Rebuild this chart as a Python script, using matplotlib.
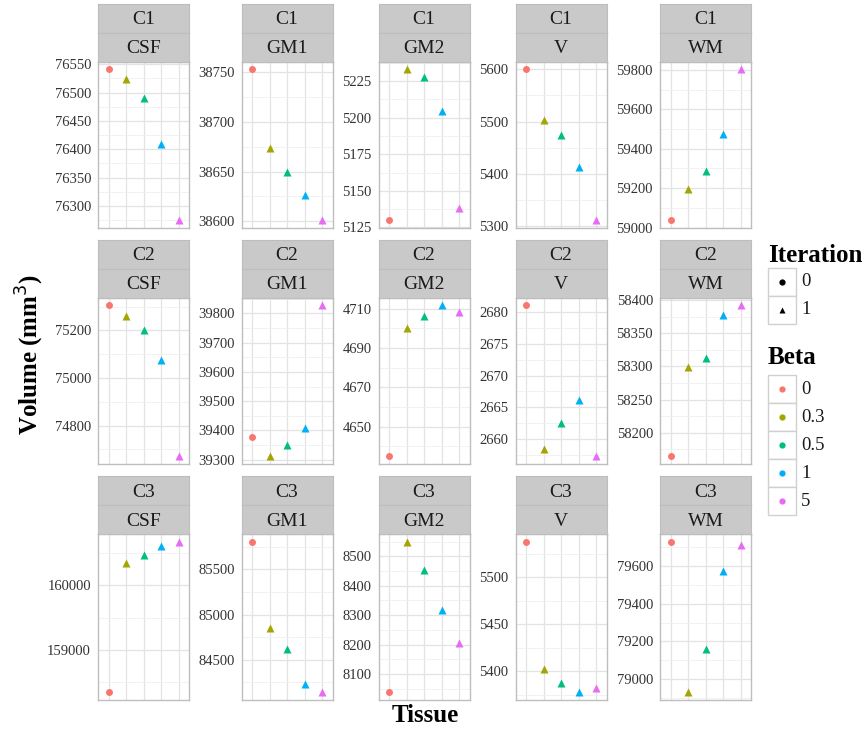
import matplotlib.pyplot as plt
from matplotlib.lines import Line2D
from matplotlib.patches import Rectangle
import numpy as np

plt.rcParams['font.family'] = ['Liberation Serif', 'DejaVu Serif']

clusters = ['C1', 'C2', 'C3']
tissues = ['CSF', 'GM1', 'GM2', 'V', 'WM']
betas = ['0', '0.3', '0.5', '1', '5']
iterations = ['0', '1', '1', '1', '1']
colors = ['#F8766D', '#A3A500', '#00BF7D', '#00B0F6', '#E76BF3']

# volumes per beta (0, 0.3, 0.5, 1, 5)
c1_csf = [76541, 76524, 76491, 76410, 76275]
c1_gm1 = [38753, 38674, 38650, 38626, 38601]
c1_gm2 = [5130, 5233, 5227.5, 5204.7, 5138]
c1_v = [5600, 5504, 5474, 5414, 5312]
c1_wm = [59038, 59196, 59286, 59477, 59803]

c2_csf = [75306, 75261, 75202, 75078, 74672]
c2_gm1 = [39377, 39312, 39350, 39408, 39828]
c2_gm2 = [4635, 4700.4, 4706.5, 4711.8, 4708.2]
c2_v = [2681.1, 2658.4, 2662.6, 2666.2, 2657.3]
c2_wm = [58164.6, 58298.5, 58312.8, 58378.5, 58392.5]

c3_csf = [158346, 160344, 160466, 160598, 160674]
c3_gm1 = [85809, 84853, 84617, 84228, 84136]
c3_gm2 = [8037, 8550, 8452, 8317, 8205]
c3_v = [5538, 5402.4, 5388, 5377.7, 5382.7]
c3_wm = [79729, 78930, 79158, 79572, 79709]

# y tick labels per panel
ticks_c1 = [[76300, 76350, 76400, 76450, 76500, 76550], [38600, 38650, 38700, 38750],
            [5125, 5150, 5175, 5200, 5225], [5300, 5400, 5500, 5600],
            [59000, 59200, 59400, 59600, 59800]]
ticks_c2 = [[74800, 75000, 75200], [39300, 39400, 39500, 39600, 39700, 39800],
            [4650, 4670, 4690, 4710], [2660, 2665, 2670, 2675, 2680],
            [58200, 58250, 58300, 58350, 58400]]
ticks_c3 = [[159000, 160000], [84500, 85000, 85500], [8100, 8200, 8300, 8400, 8500],
            [5400, 5450, 5500], [79000, 79200, 79400, 79600]]

data = [[c1_csf, c1_gm1, c1_gm2, c1_v, c1_wm],
        [c2_csf, c2_gm1, c2_gm2, c2_v, c2_wm],
        [c3_csf, c3_gm1, c3_gm2, c3_v, c3_wm]]
ticks = [ticks_c1, ticks_c2, ticks_c3]

W, H = 864, 733
fig = plt.figure(figsize=(W / 100, H / 100), dpi=100)


def px(x, y, w, h):
    # pixel box (top-left origin) -> figure fraction
    return [x / W, 1 - (y + h) / H, w / W, h / H]


col_left = [98, 241.5, 378.5, 515.5, 660]
row_top = [61.7, 297.7, 534]
pw, ph = 91, 166
strip_h = 28.8
x = np.arange(1, 6)

for r in range(3):
    for c in range(5):
        ax = fig.add_axes(px(col_left[c], row_top[r], pw, ph))
        y = data[r][c]
        for i in range(5):
            mk = 'o' if iterations[i] == '0' else '^'
            ax.plot(x[i], y[i], marker=mk, color=colors[i], ms=5 if mk == 'o' else 6,
                    mec='none', zorder=3)
        lo, hi = min(y), max(y)
        pad = (hi - lo) * 0.05
        t = ticks[r][c]
        step = t[1] - t[0]
        ax.set_yticks(t)
        ax.set_yticklabels([str(v) for v in t])
        minors = np.arange(t[0] - step * 3.5, t[-1] + step * 4, step)
        ax.set_yticks(minors, minor=True)
        ax.set_ylim(lo - pad, hi + pad)
        ax.set_xlim(0.4, 5.6)
        ax.set_xticks(x)
        ax.set_xticklabels([])
        ax.grid(True, which='major', color='#E3E3E3', lw=0.9)
        ax.grid(True, which='minor', axis='y', color='#F0F0F0', lw=0.6)
        ax.set_axisbelow(True)
        ax.tick_params(length=0, pad=5, labelsize=10.5, colors='#333333')
        ax.tick_params(which='minor', length=0)
        for s in ax.spines.values():
            s.set_color('#BEBEBE')
            s.set_linewidth(1.0)
        # two-level strip
        for k, lab in enumerate([clusters[r], tissues[c]]):
            sy = row_top[r] - strip_h * (2 - k)
            sax = fig.add_axes(px(col_left[c], sy, pw, strip_h))
            sax.set_facecolor('#C9C9C9')
            sax.set_xticks([])
            sax.set_yticks([])
            for s in sax.spines.values():
                s.set_color('#BDBDBD')
            sax.text(0.5, 0.45, lab, ha='center', va='center', fontsize=14,
                     color='#1A1A1A', transform=sax.transAxes)

fig.text(30 / W, 1 - 355 / H, 'Volume (mm$^3$)', rotation=90, ha='center', va='center',
         fontsize=18, fontweight='bold')
fig.text(425 / W, 1 - 716 / H, 'Tissue', ha='center', va='center',
         fontsize=18, fontweight='bold')

# legends
lx, ks = 768, 28
fig.text(lx / W, 1 - 255 / H, 'Iteration', ha='left', va='center', fontsize=18,
         fontweight='bold')
fig.text(lx / W, 1 - 357 / H, 'Beta', ha='left', va='center', fontsize=18,
         fontweight='bold')


def key(top, label, marker, color):
    fig.patches.append(Rectangle((lx / W, 1 - (top + ks) / H), ks / W, ks / H,
                                 transform=fig.transFigure, facecolor='white',
                                 edgecolor='#D0D0D0', lw=1))
    cx, cy = (lx + ks / 2) / W, 1 - (top + ks / 2) / H
    fig.lines.append(Line2D([cx], [cy], marker=marker, color=color, ms=4.5,
                            mec='none', transform=fig.transFigure))
    fig.text((lx + ks + 5) / W, cy, label, ha='left', va='center', fontsize=13.5,
             color='#1A1A1A')


key(268, '0', 'o', 'black')
key(268 + ks, '1', '^', 'black')
for i, b in enumerate(betas):
    key(375 + i * ks, b, 'o', colors[i])

fig.savefig('out.png', dpi=100)
